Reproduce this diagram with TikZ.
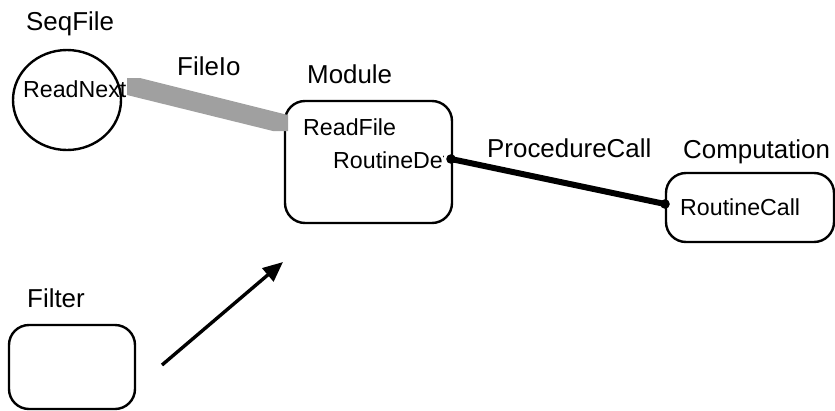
\documentclass[tikz,border=0pt]{standalone}
\usepackage{fontspec}
\setmainfont{Liberation Sans}
\usetikzlibrary{shapes.geometric,arrows.meta}
\definecolor{fileiogray}{RGB}{160,160,160}
\tikzset{
  lbl/.style={anchor=base west,inner sep=0pt,font=\fontsize{25.9}{30}\selectfont},
  inner/.style={anchor=base west,inner sep=0pt,font=\fontsize{23.2}{27}\selectfont},
  comp/.style={draw=black,line width=2.4pt,rounded corners=20pt,inner sep=0pt},
  proc/.style={draw=black,line width=6pt},
  pdot/.style={fill=black},
  flow/.style={draw=black,line width=3.4pt,-{Triangle[length=20pt,width=17pt]}}
}
\begin{document}
\begin{tikzpicture}[x=1pt,y=-1pt]
\useasboundingbox (0,0) rectangle (835,410);
% components
\node[draw=black,line width=2.4pt,ellipse,minimum width=108pt,minimum height=100pt,inner sep=0pt] (seq) at (67,100) {};
\node[comp,minimum width=167pt,minimum height=122pt] (module) at (368.5,162) {};
\node[comp,minimum width=168pt,minimum height=69pt] (computation) at (750,207.5) {};
\node[comp,minimum width=126pt,minimum height=84pt] (filter) at (72,367) {};
% labels
\node[lbl] (seqlbl) at (26,30) {SeqFile};
\node[lbl] (modlbl) at (307,83) {Module};
\node[lbl] (complbl) at (683,158) {Computation};
\node[lbl] (filtlbl) at (27,307) {Filter};
\node[lbl] (fileiolbl) at (177,75) {FileIo};
\node[lbl] (proclbl) at (487,157) {ProcedureCall};
% FileIo connector
\coordinate (f1) at (127,78);
\coordinate (f2) at (140,78);
\coordinate (f3) at (288,115);
\coordinate (f4) at (288,131);
\coordinate (f5) at (273,131);
\coordinate (f6) at (127,95);
\fill[fileiogray] (f1) -- (f2) -- (f3) -- (f4) -- (f5) -- (f6) -- cycle;
% inner texts
\node[inner] (readnext) at (23,97) {ReadNext};
\node[inner] (readfile) at (303,135) {ReadFile};
\begin{scope}
\clip (module.north west) rectangle (443,223);
\node[inner] (routinedef) at (333,168) {RoutineDef};
\end{scope}
\node[inner] (routinecall) at (680,215) {RoutineCall};
% ProcedureCall connector
\coordinate (pd) at (451,159);
\coordinate (pc) at (665,204);
\draw[proc] (pd) -- (pc);
\fill[pdot] (pd) circle (4.8pt);
\fill[pdot] (pc) circle (4.8pt);
% arrow
\coordinate (af) at (162,365);
\coordinate (at) at (283,262);
\draw[flow] (af) -- (at);
\end{tikzpicture}
\end{document}
